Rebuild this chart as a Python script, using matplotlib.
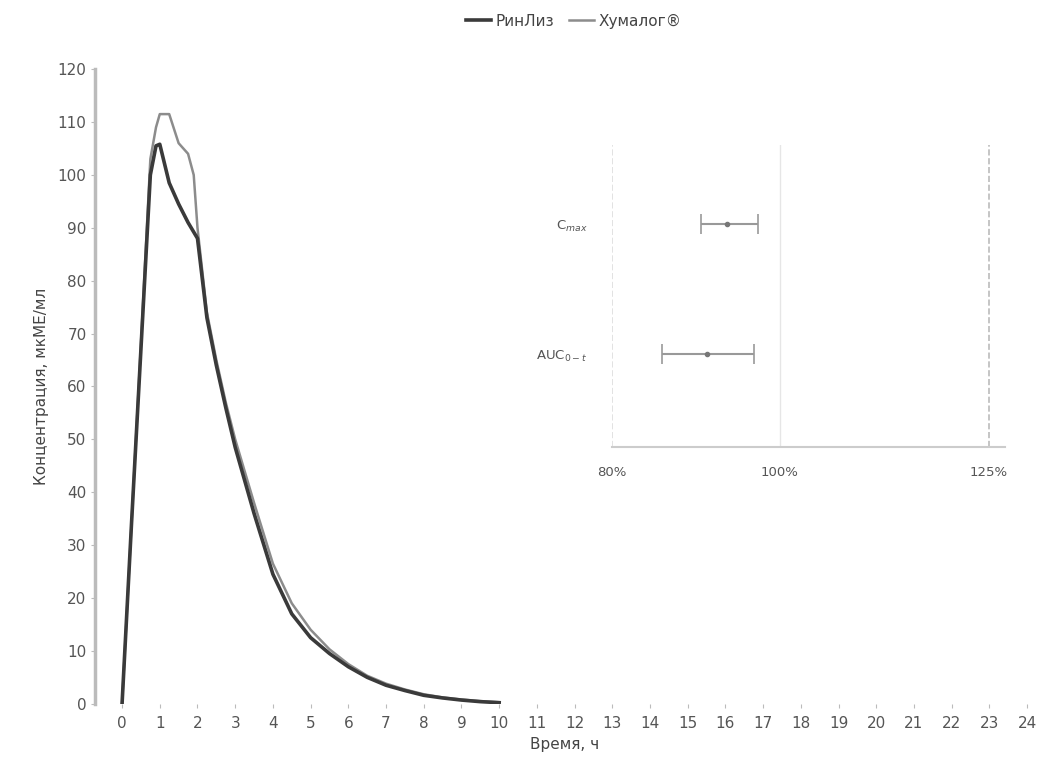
import numpy as np
import matplotlib
matplotlib.use("Agg")
import matplotlib.pyplot as plt

# pharmacokinetic curves
t_rinliz = [0, 0.25, 0.5, 0.75, 0.9, 1.0, 1.25, 1.5, 1.75, 2.0, 2.1, 2.25, 2.5, 2.75, 3.0,
            3.5, 4.0, 4.5, 5.0, 5.5, 6.0, 6.5, 7.0, 7.5, 8.0, 8.5, 9.0, 9.5, 10.0]
c_rinliz = [0, 34, 67, 100, 105.5, 105.8, 98.5, 94.5, 91, 88, 82, 73, 64, 56, 48.5,
            36, 24.5, 17, 12.5, 9.5, 7, 5, 3.5, 2.5, 1.6, 1.1, 0.7, 0.4, 0.2]

t_huma = [0, 0.25, 0.5, 0.75, 0.9, 1.0, 1.25, 1.5, 1.75, 1.9, 2.0, 2.25, 2.5, 2.75, 3.0,
          3.5, 4.0, 4.5, 5.0, 5.5, 6.0, 6.5, 7.0, 7.5, 8.0, 8.5, 9.0, 9.5, 10.0]
c_huma = [0, 34, 68, 103, 109, 111.5, 111.5, 106, 104, 100, 90, 74, 65, 57, 50,
          38, 26.5, 19, 14, 10.3, 7.5, 5.3, 3.8, 2.7, 1.8, 1.2, 0.8, 0.5, 0.3]

# bioequivalence inset: point estimate and 90% CI, %
params = ["C$_{max}$", "AUC$_{0-t}$"]
point = [93.7, 91.3]
ci_low = [90.6, 86.0]
ci_high = [97.4, 96.9]
ref_lines = [80, 100, 125]

fig = plt.figure(figsize=(10.43, 7.6), dpi=100)
ax = fig.add_axes([0.091, 0.074, 0.901, 0.835])

ax.plot(t_rinliz, c_rinliz, color="#3a3a3a", lw=2.6, label="РинЛиз", zorder=3)
ax.plot(t_huma, c_huma, color="#8c8c8c", lw=1.8, label="Хумалог®", zorder=2)

ax.set_xlim(-0.72, 24.2)
ax.set_ylim(0, 120)
ax.set_xticks(range(0, 25))
ax.set_yticks(range(0, 121, 10))
ax.tick_params(axis="both", labelsize=11, labelcolor="#555555", color="#bbbbbb")
ax.tick_params(axis="x", length=3, pad=6)
ax.tick_params(axis="y", length=3, pad=3)
for s in ["top", "right", "bottom"]:
    ax.spines[s].set_visible(False)
ax.spines["left"].set_color("#bbbbbb")
ax.spines["left"].set_linewidth(2.5)
ax.set_xlabel("Время, ч", fontsize=11, color="#444444", labelpad=4)
ax.set_ylabel("Концентрация, мкМЕ/мл", fontsize=11, color="#444444", labelpad=6)

fig.legend(loc="upper center", bbox_to_anchor=(0.55, 1.0), ncol=2, frameon=False,
           fontsize=11, handlelength=1.6, columnspacing=1.0, handletextpad=0.3,
           labelcolor="#444444")

# inset
ins = fig.add_axes([0.587, 0.412, 0.377, 0.397])
ypos = [2.4, 1.0]
for i in range(len(params)):
    ins.errorbar(point[i], ypos[i],
                 xerr=[[point[i] - ci_low[i]], [ci_high[i] - point[i]]],
                 fmt="o", ms=3, color="#777777", ecolor="#999999",
                 elinewidth=1.5, capsize=7, capthick=1.2)
ins.axvline(ref_lines[0], color="#dddddd", lw=1.2, ls="--")
ins.axvline(ref_lines[1], color="#e6e6e6", lw=1.0)
ins.axvline(ref_lines[2], color="#bbbbbb", lw=1.2, ls="--")
ins.set_xlim(80, 127)
ins.set_ylim(0, 3.25)
ins.set_xticks(ref_lines)
ins.set_xticklabels([f"{v}%" for v in ref_lines])
ins.set_yticks(ypos)
ins.set_yticklabels(params)
ins.tick_params(axis="both", labelsize=9.5, labelcolor="#555555", length=0, pad=14)
ins.tick_params(axis="y", pad=18)
for s in ["top", "right", "left"]:
    ins.spines[s].set_visible(False)
ins.spines["bottom"].set_color("#cccccc")
ins.spines["bottom"].set_linewidth(1.5)
ins.patch.set_alpha(0)

fig.savefig("out.png", dpi=100)
